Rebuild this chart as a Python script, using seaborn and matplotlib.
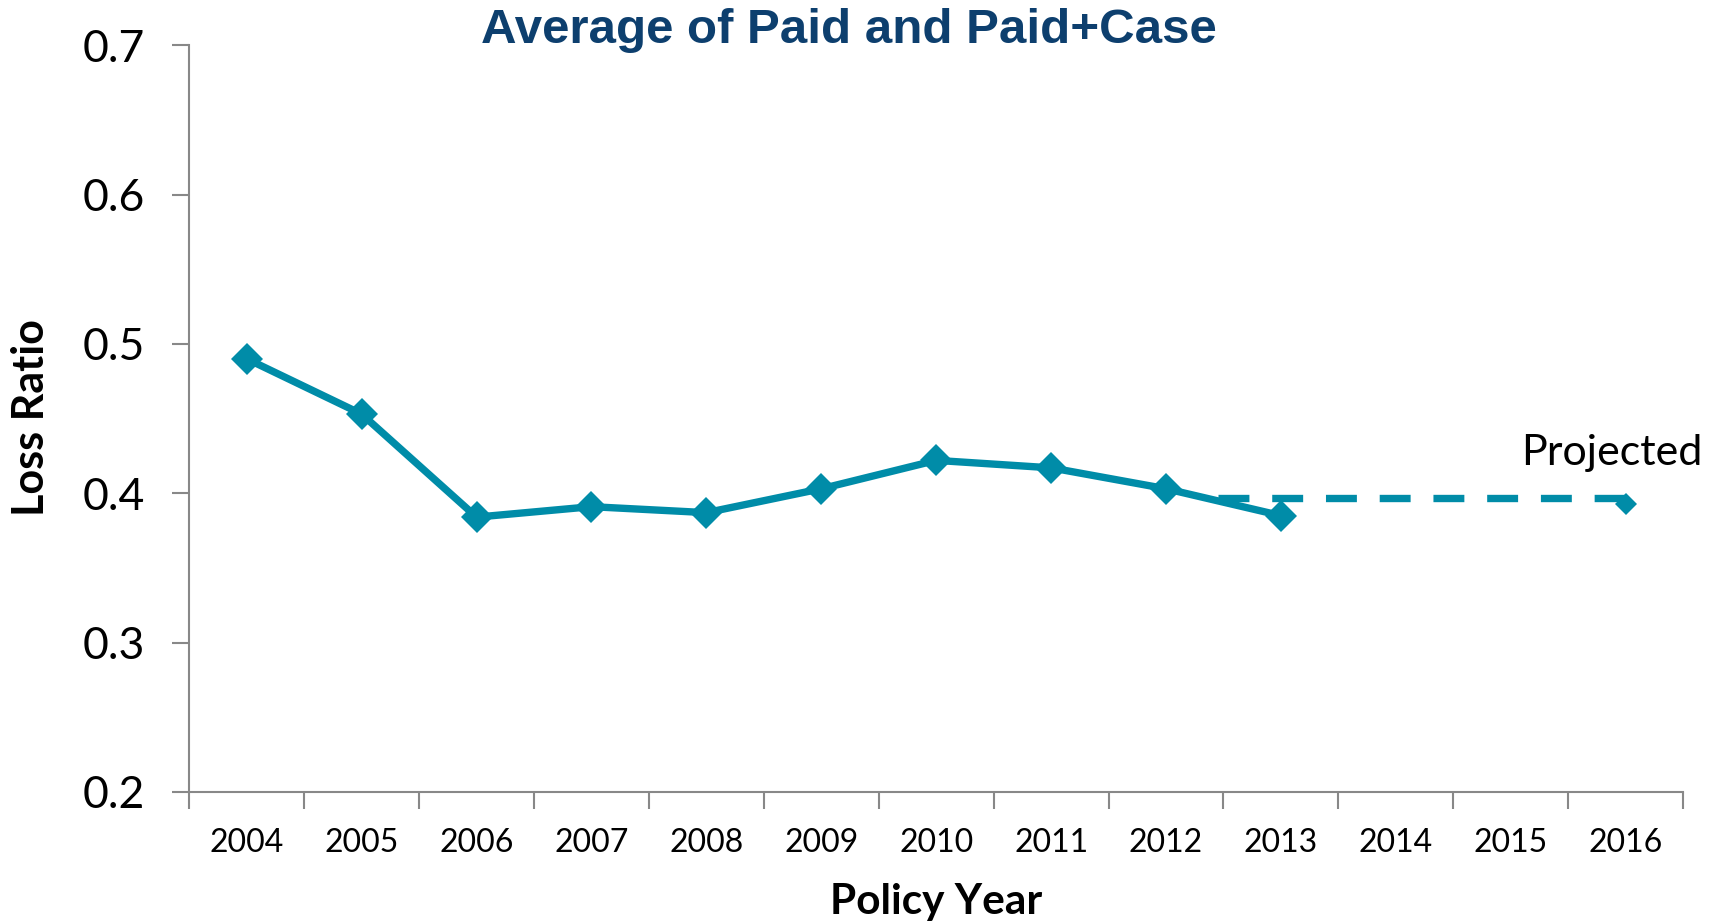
import matplotlib
matplotlib.use("Agg")
import matplotlib.pyplot as plt
import seaborn as sns
import numpy as np
import pandas as pd

# datos
years = ["2004", "2005", "2006", "2007", "2008", "2009", "2010",
         "2011", "2012", "2013", "2014", "2015", "2016"]
loss_ratio = [0.490, 0.453, 0.384, 0.391, 0.387, 0.403, 0.422,
              0.417, 0.403, 0.385]
proj_x = [8.45, 12.0]
proj_y = [0.397, 0.397]
proj_point_year = 12
proj_point_value = 0.393

color = "#008CA8"

sns.set_theme(style="white")
plt.rcParams['font.family'] = ['Lato', 'DejaVu Sans']
plt.rcParams['text.color'] = 'black'
plt.rcParams['xtick.color'] = 'black'
plt.rcParams['ytick.color'] = 'black'

df = pd.DataFrame({"idx": np.arange(len(loss_ratio)), "ratio": loss_ratio})

fig = plt.figure(figsize=(17.21, 9.24), dpi=100)
ax = fig.add_axes([0.110, 0.143, 0.868, 0.808])

sns.lineplot(data=df, x="idx", y="ratio", ax=ax, color=color, linewidth=5.3,
             marker="D", markersize=16, markeredgewidth=0, zorder=3)
ax.plot(proj_x, proj_y, color=color, linewidth=5.3, linestyle=(0, (4.2, 3.1)), zorder=2)
ax.plot([proj_point_year], [proj_point_value], color=color, marker="D",
        markersize=11, markeredgewidth=0, linestyle="none", zorder=3)

ax.text(11.09, 0.427, "Projected", fontsize=31, va="center", ha="left")

ax.set_xlim(-0.5, 12.5)
ax.set_ylim(0.2, 0.7)
ax.set_yticks([0.2, 0.3, 0.4, 0.5, 0.6, 0.7])
ax.set_yticklabels(["0.2", "0.3", "0.4", "0.5", "0.6", "0.7"], fontsize=32)
ax.set_xticks(np.arange(len(years)))
ax.set_xticklabels(years, fontsize=23)
ax.set_xticks(np.arange(-0.5, 13, 1), minor=True)
ax.tick_params(axis="x", which="major", bottom=False, length=0, pad=26)
ax.tick_params(axis="x", which="minor", bottom=True, length=12, width=1.5,
               color="#888888")
ax.tick_params(axis="y", left=True, length=12, width=1.5, color="#888888", pad=20)

for s in ["top", "right"]:
    ax.spines[s].set_visible(False)
for s in ["left", "bottom"]:
    ax.spines[s].set_color("#888888")
    ax.spines[s].set_linewidth(1.5)

ax.set_xlabel("")
ax.set_ylabel("")
fig.text(0.018, 0.548, "Loss Ratio", rotation=90, fontsize=31, fontweight="bold",
         ha="center", va="center")
fig.text(0.544, 0.024, "Policy Year", fontsize=30.5, fontweight="bold",
         ha="center", va="center")
fig.text(0.493, 0.967, "Average of Paid and Paid+Case", fontsize=35.5,
         fontweight="bold", color="#0D3F6E", ha="center", va="center",
         family=["Liberation Sans", "DejaVu Sans"])

plt.savefig("out.png", dpi=100)
